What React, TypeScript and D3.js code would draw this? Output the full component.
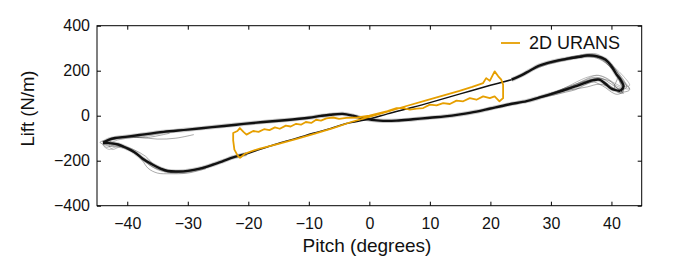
import React, { useEffect, useRef } from "react";
import * as d3 from "d3";

type Pt = [number, number];

// axis ticks
const xTicks = [-40, -30, -20, -10, 0, 10, 20, 30, 40];
const yTicks = [-400, -200, 0, 200, 400];

// experiment, mean loop, split into pieces (pitch deg, lift N/m)
const upstroke: Pt[] = [
  [-44, -120], [-43, -106], [-42, -99], [-40, -93], [-38, -86], [-34, -72],
  [-30, -62], [-26, -51], [-22, -40], [-18, -29], [-14, -20], [-10, -9],
  [-8, -1], [-6.5, 4], [-4.4, 8], [-2.7, 0], [-1, -12], [1.7, -22],
  [4.5, -22], [7.2, -16], [10, -9], [12.5, -3], [15, 6], [17.7, 18],
  [20, 32], [23, 50], [26, 65], [28, 80], [30, 96], [32, 112], [34, 130],
  [35.5, 145], [37, 158], [38, 160], [39, 142], [40, 120], [41.5, 110],
];
const rightTurn: Pt[] = [
  [41.5, 110], [42, 130], [41.5, 160], [40.8, 185], [40, 220], [39, 250],
  [37.5, 265], [36, 268], [34.8, 262], [33, 255], [31.4, 247], [29.5, 235],
  [28, 222], [26.5, 200], [25, 178], [23.5, 160],
];
const downstroke: Pt[] = [
  [23.5, 160], [20, 135], [15, 97], [10, 58], [6.7, 34], [3, 8], [0, -15],
  [-3.8, -35], [-6.5, -58], [-9.3, -78], [-12, -100], [-14.8, -121],
  [-17, -140], [-20.3, -170],
];
const dip: Pt[] = [
  [-20.3, -170], [-22.5, -185], [-24, -200], [-25.9, -218], [-28, -235],
  [-30, -245], [-31.5, -248], [-33.3, -246], [-34.5, -235], [-36, -215],
  [-37.5, -190], [-38.8, -162], [-40, -145], [-41.5, -128], [-43, -122],
  [-44, -120],
];

// single cycles near the stall ends
const rightCycles: Pt[][] = [
  [[28, 82], [31, 100], [33, 125], [35, 150], [37, 170], [38.5, 165], [40, 140], [41.5, 118], [42.5, 125], [42, 160], [41, 195], [40, 230], [38.5, 258], [37, 272], [35, 268], [32, 252], [29, 230], [27, 205]],
  [[28, 78], [30.5, 92], [32.5, 105], [34, 115], [35.5, 135], [37, 150], [38, 140], [39, 125], [40, 105], [41, 95], [42, 110], [41.5, 150], [40.5, 200], [39.5, 240], [38, 262], [36, 265], [33, 250], [30, 232], [27, 205]],
  [[28, 85], [31, 108], [33.5, 140], [35, 160], [36.5, 175], [38, 178], [39.5, 160], [41, 130], [43, 120], [42.5, 140], [41, 180], [39, 235], [37, 260], [34, 258], [31, 240], [28, 220], [26, 190]],
  [[28, 80], [30, 95], [32, 120], [34, 140], [36, 155], [38, 165], [40, 150], [41, 120], [42, 100], [41, 105], [40.5, 130], [41, 170], [40, 215], [38.5, 250], [36.5, 270], [34, 265], [31, 245], [28, 222]],
  [[29, 90], [32, 110], [34, 118], [36, 128], [38, 140], [40, 125], [41.5, 105], [43, 115], [42, 150], [40.5, 210], [39, 245], [37.5, 262], [35, 262], [30, 238], [27, 208]],
  [[27, 75], [30, 98], [32, 118], [34.5, 145], [36, 165], [37.5, 180], [39, 170], [40.5, 145], [42, 128], [43, 135], [42, 175], [40.5, 215], [39, 250], [37.5, 275], [35.5, 272], [33, 258], [30, 240], [27, 210]],
  [[30, 100], [32.5, 122], [34, 132], [35.5, 150], [37, 162], [38.5, 155], [39.5, 138], [41, 112], [42, 118], [41.5, 140], [41, 175], [40, 210], [38, 255], [36, 262], [33, 252], [30, 235]],
];
const leftCycles: Pt[][] = [
  [[-26, -220], [-29, -243], [-32, -252], [-34, -245], [-36, -225], [-38, -180], [-40, -148], [-42, -130], [-43.5, -140], [-44, -125], [-43, -110], [-41, -97], [-38, -88], [-34, -74]],
  [[-26, -215], [-29, -240], [-31, -248], [-33, -252], [-35, -240], [-37, -205], [-39, -160], [-41, -138], [-42.5, -150], [-43, -130], [-42, -112], [-40, -100], [-37, -92], [-34, -76]],
  [[-27, -235], [-30, -255], [-33, -258], [-35, -255], [-36.5, -235], [-37.5, -200], [-38.5, -170], [-40.5, -140], [-43, -135], [-44.5, -118], [-42, -103], [-39, -96], [-37, -98], [-33, -78]],
  [[-27, -225], [-30, -248], [-32, -250], [-34, -240], [-35.5, -220], [-37, -180], [-39, -150], [-41.5, -128], [-43, -110], [-41, -95], [-38, -96], [-35, -104], [-32, -100], [-29, -84]],
  [[-26, -222], [-29, -246], [-31, -252], [-33.5, -250], [-35, -232], [-36.5, -210], [-38, -178], [-40, -150], [-42, -140], [-43, -150], [-44, -130], [-43.5, -115], [-42, -102], [-38, -88], [-34, -74]],
];

// 2D URANS loop
const urans: Pt[] = [
  [-21.4, -188], [-20.6, -170], [-19.5, -158], [-18.1, -146], [-15, -125],
  [-12, -103], [-9, -80], [-6, -55], [-3, -28], [0, -5], [3, 18], [6, 42],
  [9.4, 68], [12, 88], [14.9, 110], [17, 128], [18.8, 145], [19.3, 167],
  [19.9, 155], [20.7, 197], [21.3, 175], [21.8, 160], [22.1, 138],
  [22.1, 78], [21.5, 64], [20.7, 86], [19.9, 78], [18.8, 86], [17.7, 71],
  [16.6, 78], [15.5, 64], [14.4, 67], [13.3, 52], [12.2, 56], [11.1, 46],
  [10, 49], [8.9, 34], [7.8, 31], [6.7, 27], [5.6, 34], [4.5, 34], [3, 20],
  [0, 0], [-2, -8], [-3.8, -10], [-5, -14], [-6, -8], [-7.1, -12],
  [-8, -22], [-8.8, -18], [-9.6, -32], [-10.5, -28], [-11.3, -40],
  [-12.1, -36], [-13, -48], [-13.8, -44], [-14.8, -58], [-15.6, -52],
  [-16.5, -64], [-17.4, -60], [-18.3, -72], [-19.2, -68], [-20.3, -84],
  [-20.8, -72], [-21.4, -55], [-21.8, -68], [-22.5, -77], [-22.5, -110],
  [-22.3, -151], [-21.8, -175], [-21.4, -188],
];

const ORANGE = "#E69F00";

const App: React.FC = () => {
  const svgRef = useRef<SVGSVGElement>(null);

  useEffect(() => {
    if (!svgRef.current) return;
    const width = 673;
    const height = 269;
    const margin = { top: 25.7, right: 31.3, bottom: 63.3, left: 97 };
    const font = "'Liberation Sans', Arial, Helvetica, sans-serif";

    const x = d3.scaleLinear().domain([-45, 45]).range([margin.left, width - margin.right]);
    const y = d3.scaleLinear().domain([-400, 400]).range([height - margin.bottom, margin.top]);

    const svg = d3.select(svgRef.current).attr("width", width).attr("height", height);
    svg.selectAll("*").remove();

    svg.append("defs").append("clipPath").attr("id", "plot-clip")
      .append("rect")
      .attr("x", margin.left).attr("y", margin.top)
      .attr("width", width - margin.left - margin.right)
      .attr("height", height - margin.top - margin.bottom);

    const line = d3.line<Pt>().x((d) => x(d[0])).y((d) => y(d[1]));
    const smooth = d3.line<Pt>().x((d) => x(d[0])).y((d) => y(d[1])).curve(d3.curveCatmullRom.alpha(0.5));

    const plot = svg.append("g").attr("clip-path", "url(#plot-clip)");

    // soft halo under the mean loop (many overlapping cycles)
    [upstroke, rightTurn, dip].forEach((seg) => {
      plot.append("path").datum(seg)
        .attr("fill", "none").attr("stroke", "#000").attr("stroke-opacity", 0.22)
        .attr("stroke-width", 4.2).attr("stroke-linejoin", "round")
        .attr("d", smooth);
    });

    // single cycles, thin
    [...rightCycles, ...leftCycles].forEach((c, i) => {
      plot.append("path").datum(c)
        .attr("fill", "none")
        .attr("stroke", i % 3 === 2 ? "#8a8a8a" : "#222")
        .attr("stroke-opacity", i % 3 === 2 ? 0.8 : 0.55)
        .attr("stroke-width", 0.7)
        .attr("d", smooth);
    });

    // mean loop
    [upstroke, rightTurn, dip].forEach((seg) => {
      plot.append("path").datum(seg)
        .attr("fill", "none").attr("stroke", "#111")
        .attr("stroke-width", 2.4).attr("stroke-linejoin", "round")
        .attr("d", smooth);
    });
    plot.append("path").datum(downstroke)
      .attr("fill", "none").attr("stroke", "#111")
      .attr("stroke-width", 1.5)
      .attr("d", smooth);

    // URANS
    plot.append("path").datum(urans)
      .attr("fill", "none").attr("stroke", ORANGE)
      .attr("stroke-width", 1.8).attr("stroke-linejoin", "round")
      .attr("d", line);

    // axes (ticks point inward)
    const styleAxis = (g: d3.Selection<SVGGElement, unknown, null, undefined>) => {
      g.select(".domain").remove();
      g.selectAll("line").attr("stroke", "#000");
      g.selectAll("text").attr("font-family", font).attr("font-size", 16).attr("fill", "#111");
    };

    svg.append("g")
      .attr("transform", `translate(0,${height - margin.bottom})`)
      .call(d3.axisBottom(x).tickValues(xTicks).tickSize(-4).tickPadding(12))
      .call(styleAxis);
    svg.append("g")
      .attr("transform", `translate(0,${margin.top})`)
      .call(d3.axisTop(x).tickValues(xTicks).tickSize(-4).tickFormat(() => ""))
      .call(styleAxis);
    svg.append("g")
      .attr("transform", `translate(${margin.left},0)`)
      .call(d3.axisLeft(y).tickValues(yTicks).tickSize(-4).tickPadding(7))
      .call(styleAxis);
    svg.append("g")
      .attr("transform", `translate(${width - margin.right},0)`)
      .call(d3.axisRight(y).tickValues(yTicks).tickSize(-4).tickFormat(() => ""))
      .call(styleAxis);

    // frame
    svg.append("rect")
      .attr("x", margin.left).attr("y", margin.top)
      .attr("width", width - margin.left - margin.right)
      .attr("height", height - margin.top - margin.bottom)
      .attr("fill", "none").attr("stroke", "#000").attr("stroke-width", 1);

    // axis titles
    svg.append("text")
      .attr("x", 367)
      .attr("y", 251.5)
      .attr("text-anchor", "middle")
      .attr("font-family", font).attr("font-size", 19).attr("fill", "#111")
      .text("Pitch (degrees)");
    svg.append("text")
      .attr("transform", `translate(34,108.5) rotate(-90)`)
      .attr("text-anchor", "middle")
      .attr("font-family", font).attr("font-size", 18.5).attr("fill", "#111")
      .text("Lift (N/m)");

    // legend
    const lg = svg.append("g");
    lg.append("line")
      .attr("x1", 501).attr("x2", 520).attr("y1", 43).attr("y2", 43)
      .attr("stroke", ORANGE).attr("stroke-width", 1.8);
    lg.append("text")
      .attr("x", 529).attr("y", 48.5)
      .attr("font-family", font).attr("font-size", 18).attr("fill", "#111")
      .text("2D URANS");
  }, []);

  return (
    <div style={{ position: "absolute", left: 0, top: 0, background: "#fff" }}>
      <svg ref={svgRef} style={{ display: "block" }}></svg>
    </div>
  );
};

export default App;
